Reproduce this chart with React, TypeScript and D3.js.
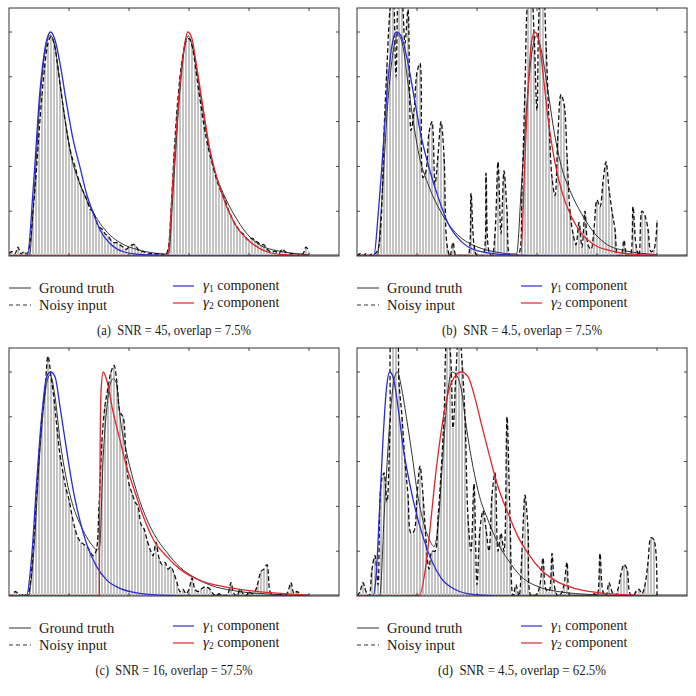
import React from "react";
import * as d3 from "d3";

// ---------- data ----------
const X_TICKS = [100, 200, 300, 400, 500];
const Y_TICKS = [0.2, 0.4, 0.6, 0.8, 1.0];
const BIN_STEP = 5;

// noisy histogram values, one per bin (x = 0,5,10,...,500)
const NOISY_A = [
  0.01, 0.02, 0.01, 0.04, 0.01, 0.02, 0.01, 0.06, 0.2, 0.36,
  0.55, 0.72, 0.86, 0.95, 0.98, 0.95, 0.87, 0.77, 0.67, 0.58,
  0.5, 0.44, 0.4, 0.35, 0.31, 0.28, 0.25, 0.21, 0.2, 0.16,
  0.13, 0.12, 0.1, 0.09, 0.07, 0.06, 0.06, 0.05, 0.04, 0.03,
  0.04, 0.05, 0.05, 0.03, 0.02, 0.02, 0.01, 0.01, 0.01, 0.01,
  0.01, 0.01, 0.0, 0.03, 0.2, 0.45, 0.65, 0.8, 0.9, 0.96,
  0.97, 0.94, 0.86, 0.76, 0.67, 0.58, 0.51, 0.45, 0.4, 0.35,
  0.31, 0.28, 0.25, 0.21, 0.18, 0.15, 0.13, 0.11, 0.1, 0.08,
  0.07, 0.08, 0.07, 0.06, 0.05, 0.05, 0.03, 0.02, 0.02, 0.02,
  0.01, 0.03, 0.02, 0.01, 0.01, 0.01, 0.0, 0.01, 0.01, 0.04,
  0.02,
];
const NOISY_B = [
  0, 0.01, 0, 0.01, 0, 0.01, 0.01, 0.03, 0.15, 0.55,
  0.85, 1.1, 1.2, 0.8, 1.2, 1.15, 0.95, 1.1, 0.56, 0.65,
  0.82, 0.86, 0.35, 0.38, 0.55, 0.6, 0.32, 0.45, 0.6, 0.45,
  0.05, 0, 0.06, 0, 0, 0, 0, 0, 0.28, 0.05,
  0, 0, 0, 0.37, 0.02, 0, 0.1, 0.42, 0.1, 0.38,
  0.2, 0, 0, 0, 0.01, 0.3, 0.75, 1.15, 1.2, 1.0,
  0.65, 1.15, 1.2, 0.95, 0.6, 0.35, 0.27, 0.55, 0.72, 0.68,
  0.45, 0.2, 0.1, 0.05, 0.15, 0.04, 0.2, 0.05, 0.03, 0.12,
  0.25, 0.22, 0.33, 0.42, 0.3, 0.2, 0.12, 0, 0, 0.07,
  0, 0, 0.22, 0.05, 0, 0.2, 0.18, 0.12, 0.02, 0.03,
  0.16,
];
const NOISY_C = [
  0, 0, 0.02, 0.01, 0, 0.01, 0, 0.05, 0.2, 0.42,
  0.62, 0.8, 0.92, 1.07, 0.98, 0.88, 0.75, 0.63, 0.55, 0.48,
  0.43, 0.36, 0.3, 0.26, 0.24, 0.23, 0.22, 0.2, 0.18, 0.2,
  0.4, 0.7, 0.85, 0.93, 1.0, 1.03, 0.95, 0.82, 0.8, 0.62,
  0.5, 0.46, 0.42, 0.4, 0.32, 0.3, 0.25, 0.21, 0.18, 0.24,
  0.17, 0.14, 0.15, 0.12, 0.13, 0.1, 0.06, 0.02, 0.03, 0.01,
  0.03, 0.08, 0.03, 0.02, 0.03, 0.04, 0.04, 0.03, 0.01, 0,
  0.01, 0, 0, 0.01, 0.06, 0.01, 0, 0.03, 0.01, 0,
  0.02, 0.01, 0.02, 0.06, 0.11, 0.12, 0.14, 0.02, 0, 0,
  0.01, 0, 0, 0.02, 0.06, 0.01, 0.02, 0.01, 0, 0,
  0,
];
const NOISY_D = [
  0, 0.02, 0.06, 0.02, 0, 0.12, 0.18, 0.05, 0.5, 0.55,
  0.42, 0.75, 1.2, 1.2, 0.95, 0.8, 0.6, 0.45, 0.28, 0.29,
  0.45, 0.58, 0.45, 0.25, 0.12, 0.2, 0.2, 0.35, 0.55, 0.8,
  1.15, 1.1, 0.75, 1.0, 1.2, 1.05, 0.8, 0.35, 0.2, 0.5,
  0.05, 0.3, 0.38, 0.3, 0.2, 0.45, 0.55, 0.2, 0.28, 0.2,
  0.8, 0.35, 0, 0.05, 0, 0.2, 0.45, 0.3, 0, 0,
  0.01, 0.05, 0.17, 0.03, 0.02, 0.19, 0.03, 0, 0.01, 0.05,
  0.15, 0, 0, 0, 0, 0, 0, 0, 0, 0.01,
  0, 0.19, 0.02, 0, 0.06, 0.02, 0, 0.03, 0.1, 0.14,
  0.12, 0.01, 0, 0.02, 0.03, 0.01, 0.05, 0.15, 0.26, 0.25,
  0,
];

// smooth curves: [x, value] pairs
const GROUND_TRUTH_AB: [number, number][] = [
  [0, 0], [33.9, 0], [40.6, 0.22], [51.7, 0.696], [62.8, 0.95], [68.3, 0.987],
  [76.7, 0.934], [85, 0.77], [96, 0.5625], [104, 0.443], [118, 0.324], [135, 0.22],
  [151.7, 0.146], [168, 0.094], [185, 0.06], [207, 0.034], [235, 0.016], [263, 0.009],
  [266, 0.01], [274, 0.31], [285, 0.741], [293, 0.934], [299, 0.982], [307, 0.92],
  [318, 0.741], [329, 0.548], [340.6, 0.4], [357, 0.28], [374, 0.19], [396, 0.101],
  [418, 0.049], [446, 0.024], [474, 0.012], [496, 0.006], [500, 0.005],
];
const GAMMA1_A: [number, number][] = [
  [0, 0], [30.6, 0.003], [40.6, 0.31], [51.7, 0.74], [62.8, 0.964], [69.4, 1.0],
  [76.7, 0.964], [85, 0.86], [96, 0.68], [107, 0.518], [118, 0.4], [129, 0.28],
  [140.6, 0.19], [151.7, 0.116], [168, 0.057], [190.6, 0.019], [218, 0.007],
  [252, 0.003], [300, 0.001], [500, 0],
];
const GAMMA2_A: [number, number][] = [
  [0, 0], [264, 0], [274, 0.369], [285, 0.771], [293, 0.949], [297.8, 1.0],
  [304, 0.979], [312.8, 0.845], [324, 0.652], [335, 0.473], [346, 0.354],
  [362.8, 0.22], [379.4, 0.131], [401.7, 0.064], [430, 0.019], [457, 0.006],
  [485, 0.003], [500, 0.001],
];
const GAMMA1_B: [number, number][] = [
  [0, 0], [28.3, 0.003], [35, 0.176], [40.6, 0.369], [46, 0.577], [51.7, 0.786],
  [60, 0.964], [65.6, 1.0], [74, 0.979], [85, 0.86], [96, 0.696], [107, 0.533],
  [118, 0.414], [135, 0.265], [151.7, 0.146], [174, 0.064], [196, 0.027],
  [224, 0.012], [263, 0.004], [320, 0.001], [500, 0],
];
const GAMMA2_B: [number, number][] = [
  [0, 0], [273, 0], [279.4, 0.399], [285, 0.741], [290.6, 0.949], [296, 1.0],
  [301.7, 0.979], [310, 0.815], [318, 0.622], [329, 0.429], [340.6, 0.295],
  [357, 0.176], [374, 0.101], [396, 0.049], [430, 0.019], [463, 0.007], [496, 0.003],
  [500, 0.002],
];
const GROUND_TRUTH_C: [number, number][] = [
  [0, 0], [32, 0], [40.6, 0.173], [51.7, 0.653], [62.8, 0.95], [68.3, 0.987],
  [76.7, 0.89], [85, 0.696], [96, 0.518], [107, 0.4], [118, 0.324], [129, 0.265],
  [140.6, 0.22], [146, 0.205], [151, 0.22], [157, 0.62], [163, 0.84], [168, 0.94],
  [174, 0.97], [179, 0.95], [185, 0.8], [196, 0.64], [207, 0.52], [224, 0.38],
  [241, 0.28], [263, 0.195], [285, 0.128], [307, 0.086], [335, 0.049], [374, 0.024],
  [430, 0.009], [485, 0.003], [500, 0.002],
];
const GAMMA1_C: [number, number][] = [
  [0, 0], [29.4, 0.003], [37.8, 0.176], [46, 0.503], [54.4, 0.8], [62.8, 0.979],
  [69.4, 1.0], [76.7, 0.979], [85, 0.845], [96, 0.652], [107, 0.473], [118, 0.339],
  [129, 0.235], [146, 0.131], [163, 0.071], [185, 0.034], [218, 0.012], [263, 0.003],
  [320, 0.001], [500, 0],
];
const GAMMA2_C: [number, number][] = [
  [0, 0], [150.5, 0], [151, 0.3], [152, 0.69], [153.5, 0.92], [157, 1.0],
  [162.8, 0.964], [174, 0.815], [185, 0.696], [196, 0.577], [207, 0.488],
  [224, 0.354], [241, 0.25], [263, 0.176], [285, 0.12], [318, 0.07], [352, 0.045],
  [385, 0.03], [430, 0.016], [485, 0.006], [500, 0.004],
];
const GROUND_TRUTH_D: [number, number][] = [
  [0, 0], [37.8, 0], [46, 0.396], [54.4, 0.77], [62.8, 0.979], [67.2, 1.0],
  [73.9, 0.934], [82.2, 0.8], [90.6, 0.652], [101.7, 0.443], [112.8, 0.31],
  [121, 0.25], [128.3, 0.22], [135, 0.31], [143, 0.62], [151.7, 0.92], [158.3, 1.0],
  [165.6, 0.987], [173.9, 0.92], [182.2, 0.755], [193.3, 0.577], [204.4, 0.443],
  [218.3, 0.339], [235, 0.235], [251.7, 0.161], [273.9, 0.086], [301.7, 0.042],
  [335, 0.02], [374, 0.009], [430, 0.003], [500, 0.001],
];
const GAMMA1_D: [number, number][] = [
  [0, 0], [26.7, 0.003], [32.2, 0.1], [37.8, 0.399], [43.3, 0.696], [48.9, 0.92],
  [54.4, 1.0], [60, 0.979], [68.3, 0.845], [76.7, 0.667], [87.8, 0.503],
  [98.9, 0.369], [110, 0.265], [123.9, 0.161], [140.6, 0.079], [162.8, 0.03],
  [196, 0.006], [235, 0.001], [500, 0],
];
const GAMMA2_D: [number, number][] = [
  [0, 0], [104.4, 0.003], [112.8, 0.1], [121, 0.28], [129.4, 0.503], [140.6, 0.74],
  [151.7, 0.905], [162.8, 0.979], [173.9, 1.0], [185, 0.979], [196, 0.89],
  [207, 0.771], [218.3, 0.652], [235, 0.488], [251.7, 0.369], [268.3, 0.265],
  [285, 0.19], [307, 0.116], [329, 0.071], [362.8, 0.034], [401.7, 0.015],
  [457, 0.004], [496, 0.001], [500, 0.001],
];

const CAPTIONS = [
  "(a)  SNR = 45, overlap = 7.5%",
  "(b)  SNR = 4.5, overlap = 7.5%",
  "(c)  SNR = 16, overlap = 57.5%",
  "(d)  SNR = 4.5, overlap = 62.5%",
];
const CAPTION_WIDTHS = [154, 160, 157, 168];

// ---------- layout ----------
const PANELS = [
  { left: 9, top: 8, noisy: NOISY_A, truth: GROUND_TRUTH_AB, g1: GAMMA1_A, g2: GAMMA2_A },
  { left: 357, top: 8, noisy: NOISY_B, truth: GROUND_TRUTH_AB, g1: GAMMA1_B, g2: GAMMA2_B },
  { left: 9, top: 348, noisy: NOISY_C, truth: GROUND_TRUTH_C, g1: GAMMA1_C, g2: GAMMA2_C },
  { left: 357, top: 348, noisy: NOISY_D, truth: GROUND_TRUTH_D, g1: GAMMA1_D, g2: GAMMA2_D },
];
const PW = 330;
const PH = 248;
const FONT = "'Liberation Serif', 'Times New Roman', serif";

function Panel({ p, idx }: { p: any; idx: number }) {
  const x = d3.scaleLinear().domain([0, 550]).range([p.left, p.left + PW]);
  const y = d3.scaleLinear().domain([0, PH / 224]).range([p.top + PH, p.top]);
  const clipId = `clip${idx}`;
  const smooth = d3
    .line<[number, number]>()
    .x((d) => x(d[0]))
    .y((d) => y(d[1]))
    .curve(d3.curveMonotoneX);
  const noisyPts: [number, number][] = p.noisy.map((v: number, i: number) => [i * BIN_STEP, v]);
  const dashed = d3
    .line<[number, number]>()
    .x((d) => x(d[0]))
    .y((d) => y(Math.max(0, d[1])))
    .curve(d3.curveCatmullRom.alpha(0.5));
  const base = y(0);
  const lx = p.left;
  const ly = p.top;
  return (
    <g>
      <defs>
        <clipPath id={clipId}>
          <rect x={p.left} y={p.top} width={PW} height={PH} />
        </clipPath>
      </defs>
      <g clipPath={`url(#${clipId})`}>
        <rect x={p.left} y={base - 2} width={PW} height={2} fill="#9a9a9a" />
        {noisyPts.map((d, i) => (
          <rect
            key={i}
            x={x(d[0]) - 1}
            y={y(d[1])}
            width={2}
            height={Math.max(0, base - y(d[1]))}
            fill="#c4c4c4"
          />
        ))}
        <path d={smooth(p.truth) || ""} fill="none" stroke="#333" strokeWidth={1} />
        <path d={dashed(noisyPts) || ""} fill="none" stroke="#111" strokeWidth={1.3} strokeDasharray="4.5,2.5" />
        <path d={smooth(p.g1) || ""} fill="none" stroke="#2a2ad6" strokeWidth={1.3} />
        <path d={smooth(p.g2) || ""} fill="none" stroke="#e0252a" strokeWidth={1.3} />
      </g>
      {X_TICKS.map((t) => (
        <g key={"x" + t}>
          <line x1={x(t)} x2={x(t)} y1={p.top} y2={p.top + 3} stroke="#444" />
          <line x1={x(t)} x2={x(t)} y1={p.top + PH} y2={p.top + PH - 3} stroke="#444" />
        </g>
      ))}
      {Y_TICKS.map((t) => (
        <g key={"y" + t}>
          <line x1={p.left} x2={p.left + 3} y1={y(t)} y2={y(t)} stroke="#444" />
          <line x1={p.left + PW} x2={p.left + PW - 3} y1={y(t)} y2={y(t)} stroke="#444" />
        </g>
      ))}
      <rect x={p.left} y={p.top} width={PW} height={PH} fill="none" stroke="#333" strokeWidth={1} />
      {/* legend */}
      <g fontFamily={FONT} fontSize={14.5} fill="#1a1a1a">
        <line x1={lx} x2={lx + 22} y1={ly + 280} y2={ly + 280} stroke="#333" strokeWidth={1} />
        <text x={lx + 30} y={ly + 280} dy="0.33em">Ground truth</text>
        <line x1={lx} x2={lx + 22} y1={ly + 297} y2={ly + 297} stroke="#333" strokeWidth={1.2} strokeDasharray="4,3" />
        <text x={lx + 30} y={ly + 297} dy="0.33em">Noisy input</text>
        <line x1={lx + 164} x2={lx + 185} y1={ly + 278} y2={ly + 278} stroke="#2a2ad6" strokeWidth={1.2} />
        <text x={lx + 194} y={ly + 277} dy="0.33em" fontSize={14}>
          <tspan fontStyle="italic" fontSize={15}>γ</tspan>
          <tspan fontSize={9.5} dy="2.5">1</tspan>
          <tspan dy="-2.5"> component</tspan>
        </text>
        <line x1={lx + 164} x2={lx + 185} y1={ly + 295} y2={ly + 295} stroke="#e0252a" strokeWidth={1.2} />
        <text x={lx + 194} y={ly + 294} dy="0.33em" fontSize={14}>
          <tspan fontStyle="italic" fontSize={15}>γ</tspan>
          <tspan fontSize={9.5} dy="2.5">2</tspan>
          <tspan dy="-2.5"> component</tspan>
        </text>
        <text
          x={lx + 165}
          y={ly + 322}
          dy="0.33em"
          textAnchor="middle"
          fontSize={14}
          xmlSpace="preserve"
          textLength={CAPTION_WIDTHS[idx]}
          lengthAdjust="spacingAndGlyphs"
        >
          {CAPTIONS[idx]}
        </text>
      </g>
    </g>
  );
}

export default function App() {
  return (
    <svg
      width={696}
      height={696}
      style={{ position: "absolute", left: 0, top: 0, background: "#fff" }}
    >
      <rect width={696} height={696} fill="#fff" />
      {PANELS.map((p, i) => (
        <Panel key={i} p={p} idx={i} />
      ))}
    </svg>
  );
}
